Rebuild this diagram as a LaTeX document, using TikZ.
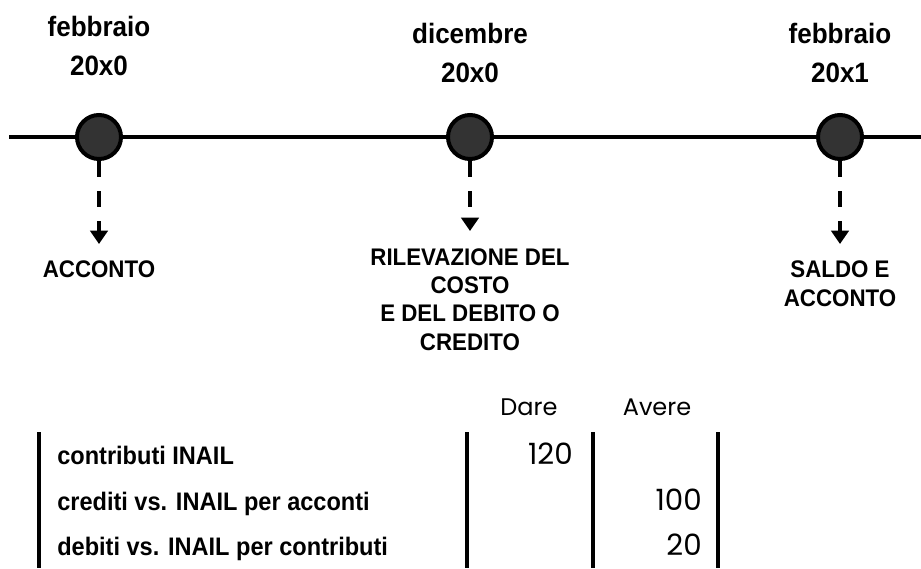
\documentclass[tikz,border=0pt]{standalone}
\usepackage{fontspec}
\setmainfont{Liberation Sans}[FakeStretch=0.93]
\newfontfamily\handfont{Poppins}
\usetikzlibrary{arrows.meta}
\tikzset{
    dot/.style={circle,draw=black,line width=3pt,fill=black!80,minimum size=33pt,inner sep=0pt},
    datelbl/.style={font=\bfseries\fontsize{21}{29}\selectfont,align=center,anchor=base,inner sep=0pt},
    eventlbl/.style={font=\bfseries\fontsize{18}{21.2}\selectfont,align=center,anchor=base,inner sep=0pt},
    rowlbl/.style={font=\bfseries\fontsize{19}{22}\selectfont,anchor=base west,inner sep=0pt},
    hand/.style={font=\handfont\fontsize{18}{21}\selectfont,anchor=base,inner sep=0pt},
    amount/.style={font=\handfont\fontsize{22}{24}\selectfont,anchor=base east,inner sep=0pt},
    link/.style={line width=2.6pt,dash pattern=on 12pt off 10.5pt,-{Triangle[width=13pt,length=10pt]}},
    bar/.style={line width=3.5pt}
}
\begin{document}
\begin{tikzpicture}[x=0.75pt,y=-0.75pt]
    \useasboundingbox (0,0) rectangle (921,568);
    \coordinate (tstart) at (9,137);
    \coordinate (tend) at (921,137);
    \draw[line width=3pt] (tstart) -- (tend);
    \node[dot] (t0) at (99,137) {};
    \node[dot] (t1) at (470,137) {};
    \node[dot] (t2) at (840,137) {};
    \node[datelbl] (d0) at (99,75) {febbraio\\20x0};
    \node[datelbl] (d1) at (470,82) {dicembre\\20x0};
    \node[datelbl] (d2) at (840,82) {febbraio\\20x1};
    \coordinate (a0) at (99,244);
    \coordinate (a1) at (470,231);
    \coordinate (a2) at (840,244);
    \draw[link] (t0.south) -- (a0);
    \draw[link] (t1.south) -- (a1);
    \draw[link] (t2.south) -- (a2);
    \node[eventlbl] (e0) at (99,277) {ACCONTO};
    \node[eventlbl] (e1) at (470,350) {RILEVAZIONE DEL\\COSTO\\E DEL DEBITO O\\CREDITO};
    \node[eventlbl] (e2) at (840,306) {SALDO E\\ACCONTO};
    \node[hand] (dare) at (529,415) {Dare};
    \node[hand] (avere) at (657,415) {Avere};
    \node[rowlbl] (r1) at (57,464) {contributi INAIL};
    \node[rowlbl] (r2) at (57,510) {crediti vs. INAIL per acconti};
    \node[rowlbl] (r3) at (57,555) {debiti vs. INAIL per contributi};
    \node[amount] (v1) at (573,464) {120};
    \node[amount] (v2) at (702,510) {100};
    \node[amount] (v3) at (702,555) {20};
    \draw[bar] (39,432) -- (39,568);
    \draw[bar] (467,432) -- (467,568);
    \draw[bar] (593,432) -- (593,568);
    \draw[bar] (718,432) -- (718,568);
\end{tikzpicture}
\end{document}
